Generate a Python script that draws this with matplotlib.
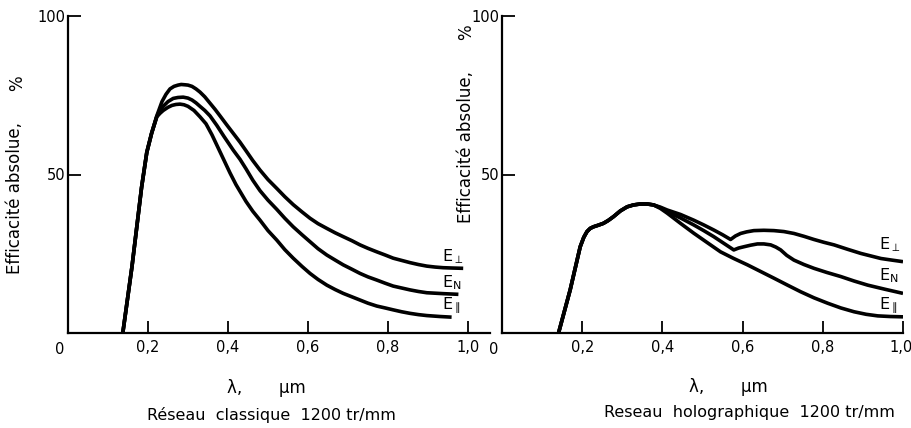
import numpy as np
import matplotlib.pyplot as plt
from matplotlib.transforms import ScaledTranslation

plt.rcParams['font.family'] = ['DejaVu Sans']
plt.rcParams['mathtext.fontset'] = 'dejavusans'

# Reseau classique 1200 tr/mm  (lambda in um, efficacite in %)
cl_perp_x = [0.137, 0.16, 0.184, 0.197, 0.209, 0.222, 0.235, 0.245, 0.255, 0.265, 0.275, 0.283,
             0.2925, 0.30, 0.31, 0.32, 0.33, 0.342, 0.355, 0.368, 0.38, 0.396, 0.413, 0.43, 0.445,
             0.462, 0.48, 0.50, 0.522, 0.542, 0.563, 0.585, 0.605, 0.625, 0.647, 0.668, 0.688,
             0.71, 0.73, 0.75, 0.772, 0.793, 0.813, 0.834, 0.855, 0.876, 0.897, 0.918, 0.938,
             0.96, 0.988]
cl_perp_y = [0, 21, 46, 57, 63, 68.5, 73, 75.3, 77, 77.8, 78.2, 78.4, 78.3, 78.2, 77.8, 77.0,
             76, 74.5, 72.5, 70.5, 68.5, 65.8, 63, 60.2, 57.5, 54.4, 51.4, 48.4, 45.6, 43.0,
             40.5, 38.2, 36.2, 34.5, 33, 31.6, 30.4, 29.1, 27.8, 26.7, 25.6, 24.6, 23.6, 22.9,
             22.2, 21.6, 21.1, 20.8, 20.6, 20.5, 20.4]

cl_n_x = [0.137, 0.16, 0.184, 0.197, 0.209, 0.222, 0.23, 0.238, 0.25, 0.263, 0.275, 0.288,
          0.30, 0.31, 0.32, 0.33, 0.342, 0.355, 0.372, 0.39, 0.413, 0.43, 0.445, 0.462, 0.48,
          0.50, 0.522, 0.542, 0.563, 0.585, 0.605, 0.625, 0.647, 0.668, 0.688, 0.71, 0.73,
          0.75, 0.772, 0.793, 0.813, 0.834, 0.855, 0.876, 0.897, 0.94, 0.976]
cl_n_y = [0, 21, 46, 57, 63, 68.3, 70.2, 71.5, 73, 74, 74.3, 74.4, 74.1, 73.5, 72.6, 71.5,
          70.2, 68.5, 65.5, 62, 57.7, 54.8, 51.8, 48.2, 44.9, 41.9, 39.0, 36.2, 33.5, 31.0,
          28.8, 26.6, 24.6, 23.0, 21.5, 20.1, 18.8, 17.7, 16.7, 15.7, 14.8, 14.2, 13.6, 13.1,
          12.7, 12.4, 12.2]

cl_par_x = [0.137, 0.16, 0.184, 0.197, 0.209, 0.222, 0.23, 0.238, 0.25, 0.26, 0.27, 0.28,
            0.29, 0.30, 0.315, 0.33, 0.345, 0.36, 0.375, 0.39, 0.405, 0.42, 0.445, 0.462, 0.48,
            0.50, 0.522, 0.542, 0.563, 0.585, 0.605, 0.625, 0.647, 0.668, 0.688, 0.71, 0.73,
            0.75, 0.772, 0.793, 0.813, 0.834, 0.855, 0.876, 0.897, 0.93, 0.959]
cl_par_y = [0, 21, 46, 57, 63, 68.2, 69.3, 70.2, 71.2, 71.8, 72.1, 72.2, 72.0, 71.5, 70.2,
            68.2, 66, 62.5, 58.5, 54.5, 50.5, 46.8, 41.5, 38.4, 35.6, 32.3, 29.3, 26.3, 23.6,
            21.0, 18.8, 16.9, 15.1, 13.7, 12.5, 11.4, 10.4, 9.4, 8.5, 7.9, 7.3, 6.7, 6.2, 5.8,
            5.5, 5.2, 5.0]

# Reseau holographique 1200 tr/mm
common_x = [0.141, 0.17, 0.195, 0.204, 0.212, 0.22, 0.228, 0.24, 0.253, 0.265, 0.278, 0.295,
            0.312, 0.328, 0.345, 0.362, 0.378]
common_y = [0, 13.6, 27.2, 30.2, 32, 33.0, 33.5, 34.0, 34.6, 35.5, 36.7, 38.5, 39.8, 40.4,
            40.7, 40.7, 40.4]

ho_perp_x = common_x + [0.395, 0.412, 0.445, 0.478, 0.503, 0.528, 0.55, 0.57, 0.582, 0.595,
                        0.61, 0.628, 0.653, 0.678, 0.703, 0.728, 0.753, 0.778, 0.803, 0.828,
                        0.862, 0.895, 0.92, 0.945, 0.972, 1.0]
ho_perp_y = common_y + [39.7, 38.8, 37.4, 35.6, 34.1, 32.5, 31.0, 29.5, 30.6, 31.4, 31.9,
                        32.3, 32.4, 32.3, 32.0, 31.4, 30.5, 29.5, 28.6, 27.8, 26.4, 25.1, 24.3,
                        23.5, 23.0, 22.5]

ho_n_x = common_x + [0.395, 0.412, 0.445, 0.478, 0.503, 0.528, 0.553, 0.578, 0.59, 0.603,
                     0.62, 0.637, 0.653, 0.67, 0.683, 0.695, 0.71, 0.728, 0.753, 0.778, 0.81,
                     0.845, 0.878, 0.912, 0.955, 1.0]
ho_n_y = common_y + [39.5, 38.3, 36.3, 34.1, 32.3, 30.4, 28.3, 26.2, 26.8, 27.2, 27.7, 28.1,
                     28.1, 27.8, 27.1, 26.2, 24.5, 23.0, 21.6, 20.4, 19.1, 17.8, 16.4, 15.1,
                     13.8, 12.5]

ho_par_x = common_x + [0.395, 0.412, 0.445, 0.478, 0.512, 0.545, 0.578, 0.612, 0.645, 0.678,
                       0.712, 0.745, 0.778, 0.812, 0.845, 0.878, 0.908, 0.937, 0.968, 1.0]
ho_par_y = common_y + [39.3, 37.8, 34.6, 31.5, 28.5, 25.6, 23.5, 21.5, 19.4, 17.3, 15.1,
                       13.0, 11.1, 9.4, 7.9, 6.7, 5.9, 5.4, 5.2, 5.1]

xticks = [0.2, 0.4, 0.6, 0.8, 1.0]
xtick_labels = ['0,2', '0,4', '0,6', '0,8', '1,0']
yticks = [50, 100]
labels = [r'E$_{\perp}$', r'E$_{\mathrm{N}}$', r'E$_{\parallel}$']

fig = plt.figure(figsize=(9.12, 4.28), dpi=100)
ax1 = fig.add_axes([68/912, 1-333/428, 422/912, 317/428])
ax2 = fig.add_axes([502/912, 1-333/428, 401/912, 317/428])


def style(ax, xmax):
    ax.set_xlim(0, xmax)
    ax.set_ylim(0, 100)
    for s in ['top', 'right']:
        ax.spines[s].set_visible(False)
    for s in ['left', 'bottom']:
        ax.spines[s].set_linewidth(1.6)
    ax.set_xticks(xticks)
    ax.set_xticklabels(xtick_labels)
    ax.set_yticks(yticks)
    ax.tick_params(direction='in', length=9, width=1.3, labelsize=10.5, pad=5)
    ax.tick_params(axis='y', pad=2)
    ax.text(-0.02, -2.8, '0', ha='center', va='top', fontsize=10.5, clip_on=False)


lw = 2.6
kw = dict(color='black', lw=lw, solid_joinstyle='round', solid_capstyle='butt')
ax1.plot(cl_perp_x, cl_perp_y, **kw)
ax1.plot(cl_n_x, cl_n_y, **kw)
ax1.plot(cl_par_x, cl_par_y, **kw)
style(ax1, 1.055)
for lab, yy in zip(labels, [24, 16, 8.8]):
    ax1.text(0.935, yy, lab, fontsize=11.5, va='center', ha='left')

ax2.plot(ho_perp_x, ho_perp_y, **kw)
ax2.plot(ho_n_x, ho_n_y, **kw)
ax2.plot(ho_par_x, ho_par_y, **kw)
style(ax2, 1.0)
last = ax2.get_xticklabels()[-1]
last.set_transform(last.get_transform() + ScaledTranslation(-2/100, 0, fig.dpi_scale_trans))
for lab, yy in zip(labels, [27.8, 18, 8.8]):
    ax2.text(0.94, yy, lab, fontsize=11.5, va='center', ha='left', clip_on=False)

# axis titles
fig.text(15/912, 1-198/428, 'Efficacité absolue,', rotation=90, ha='center', va='center', fontsize=12)
fig.text(17/912, 1-83/428, '%', rotation=90, ha='center', va='center', fontsize=12)
fig.text(466/912, 1-147/428, 'Efficacité absolue,', rotation=90, ha='center', va='center', fontsize=12)
fig.text(466/912, 1-32/428, '%', rotation=90, ha='center', va='center', fontsize=12)

fig.text(266/912, 1-388/428, 'λ,       μm', ha='center', va='center', fontsize=12)
fig.text(271/912, 1-415/428, 'Réseau  classique  1200 tr/mm', ha='center', va='center', fontsize=11.5)
fig.text(728/912, 1-387/428, 'λ,       μm', ha='center', va='center', fontsize=12)
fig.text(749/912, 1-413/428, 'Reseau  holographique  1200 tr/mm', ha='center', va='center', fontsize=11.5)

fig.savefig('out.png', dpi=100)
